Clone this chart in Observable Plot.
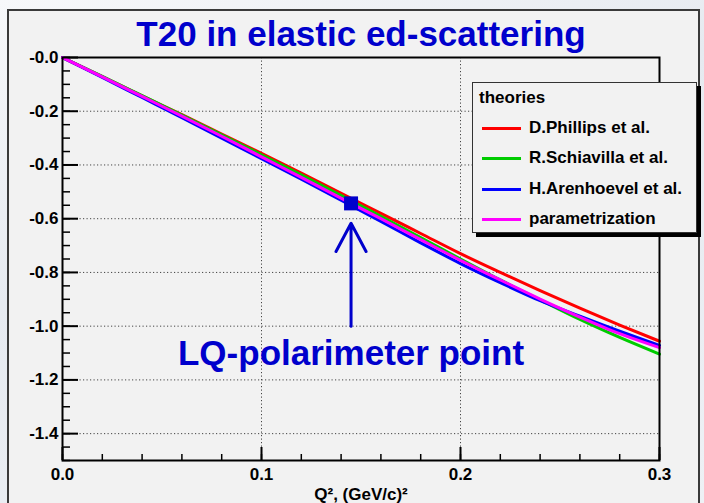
<!DOCTYPE html>
<html>
<head>
<meta charset="utf-8">
<script src="https://cdn.jsdelivr.net/npm/d3@7"></script>
<script src="https://cdn.jsdelivr.net/npm/@observablehq/plot@0.6"></script>
<style>
  html, body { margin: 0; padding: 0; }
  body { width: 704px; height: 503px; overflow: hidden; }
  #wrap { position: relative; width: 704px; height: 503px; overflow: hidden;
    background: linear-gradient(160deg, #f7f8fa 0%, #e6eaf0 40%, #eef1f5 100%); }
  #panel { position: absolute; left: 7px; top: 9px; width: 693px; height: 520px; box-sizing: border-box;
    border: 2px solid #3a3a3a; background: #f2f2f2; }
  #chart { position: absolute; left: 0; top: 0; }
  #legend { position: absolute; left: 472px; top: 82px; width: 225px; height: 151px; box-sizing: border-box;
    border: 1px solid #333; background: #f2f2f2; box-shadow: 4px 4px 0 #000;
    font: bold 17px "Liberation Sans", Arial, sans-serif; color: #000; }
  #legend .hdr { position: absolute; left: 6px; top: 5px; line-height: 20px; }
  #legend .row { position: absolute; left: 0; height: 20px; width: 100%; }
  #legend .sw { position: absolute; left: 9px; top: 9px; width: 39px; height: 3px; }
  #legend .lb { position: absolute; left: 56px; top: 0; line-height: 20px; white-space: nowrap; }
</style>
</head>
<body>
<div id="wrap">
  <div id="panel"></div>
  <div id="chart"></div>
  <div id="legend"></div>
</div>
<script>
// ---- data ----
const titleText = "T20 in elastic ed-scattering";
const xLabelText = "Q², (GeV/c)²";
const legendTitle = "theories";
const seriesNames = ["D.Phillips et al.", "R.Schiavilla et al.", "H.Arenhoevel et al.", "parametrization"];
const seriesColors = ["#ff0000", "#00cc00", "#0000ff", "#ff00ff"];

const q2 = [0, 0.02, 0.04, 0.06, 0.08, 0.10, 0.12, 0.145, 0.16, 0.18, 0.20, 0.22, 0.24, 0.26, 0.28, 0.30];
const phillips = [0, -0.071, -0.143, -0.213, -0.285, -0.357, -0.430, -0.524, -0.580, -0.655, -0.730, -0.800, -0.868, -0.933, -0.996, -1.056];
const schiavilla = [0, -0.070, -0.142, -0.214, -0.288, -0.362, -0.437, -0.533, -0.591, -0.670, -0.750, -0.828, -0.902, -0.975, -1.042, -1.104];
const arenhoevel = [0, -0.074, -0.149, -0.224, -0.300, -0.377, -0.453, -0.551, -0.610, -0.690, -0.767, -0.838, -0.905, -0.963, -1.019, -1.072];
const parametrization = [0, -0.072, -0.145, -0.218, -0.293, -0.370, -0.446, -0.543, -0.600, -0.678, -0.755, -0.828, -0.899, -0.966, -1.028, -1.080];

const lqLabel = "LQ-polarimeter point";
const lqPoint = [{q: 0.145, t: -0.543}];
const lqArrow = [{q: 0.145, from: -1.0, to: -0.617}];
const lqText = [{q: 0.145, t: -1.145, label: lqLabel}];

const xTicks = [0, 0.1, 0.2, 0.3];
const xTickLabels = ["0.0", "0.1", "0.2", "0.3"];
const yTicks = [0, -0.2, -0.4, -0.6, -0.8, -1.0, -1.2, -1.4];
const yTickLabels = ["-0.0", "-0.2", "-0.4", "-0.6", "-0.8", "-1.0", "-1.2", "-1.4"];
const xGrid = [0.1, 0.2];
const yGrid = [-0.2, -0.4, -0.6, -0.8, -1.0, -1.2, -1.4];
const xMinor = d3.range(0, 16).map(i => +(i * 0.02).toFixed(2));
const yMinor = d3.range(0, 31).map(i => +(-i * 0.05).toFixed(2));

// ---- build ----
const seriesValues = [phillips, schiavilla, arenhoevel, parametrization];
const rows = seriesNames.flatMap((name, s) => q2.map((q, i) => ({series: name, q, t: seriesValues[s][i]})));
const xLab = new Map(xTicks.map((v, i) => [v, xTickLabels[i]]));
const yLab = new Map(yTicks.map((v, i) => [v, yTickLabels[i]]));

const W = 704, H = 503, mL = 62, mR = 45, mT = 57, mB = 43;
const fw = W - mL - mR, fh = H - mT - mB;
const blue = "#0000cc";
const dotted = {stroke: "#444", strokeOpacity: 1, strokeWidth: 1, strokeDasharray: "1.2,2.3"};

const chart = Plot.plot({
  width: W, height: H,
  marginLeft: mL, marginRight: mR, marginTop: mT, marginBottom: mB,
  x: {domain: [0, 0.3]},
  y: {domain: [-1.5, 0]},
  color: {domain: seriesNames, range: seriesColors},
  style: {background: "transparent", fontFamily: "'Liberation Sans', Arial, sans-serif",
          fontWeight: "bold", fontSize: "17px", color: "black", overflow: "visible"},
  marks: [
    Plot.gridY(yGrid, dotted),
    Plot.gridX(xGrid, dotted),
    Plot.tickY(yMinor, {stroke: "black", strokeWidth: 1.5, insetRight: fw - 8}),
    Plot.tickY(yTicks, {stroke: "black", strokeWidth: 2, insetRight: fw - 16}),
    Plot.tickX(xMinor, {stroke: "black", strokeWidth: 1.5, insetTop: fh - 6}),
    Plot.tickX(xTicks, {stroke: "black", strokeWidth: 2, insetTop: fh - 13}),
    Plot.line(rows, {x: "q", y: "t", z: "series", stroke: "series", strokeWidth: 3, curve: "monotone-x"}),
    Plot.dot(lqPoint, {x: "q", y: "t", symbol: "square", r: 7.9, fill: blue, stroke: "none"}),
    Plot.arrow(lqArrow, {x1: "q", x2: "q", y1: "from", y2: "to", stroke: blue, strokeWidth: 3, headLength: 16, headAngle: 56}),
    Plot.text(lqText, {x: "q", y: "t", text: "label", fill: blue, fontSize: 35, fontWeight: "bold", lineAnchor: "bottom"}),
    Plot.text([titleText], {frameAnchor: "top", dy: -12, text: d => d, fill: blue, fontSize: 35, fontWeight: "bold", lineAnchor: "bottom"}),
    Plot.text([xLabelText], {frameAnchor: "bottom", dy: 39, text: d => d, fill: "black", fontSize: 17, fontWeight: "bold", lineAnchor: "bottom"}),
    Plot.frame({stroke: "black", strokeWidth: 2}),
    Plot.axisX(xTicks, {tickSize: 0, tickPadding: 7, label: null, tickFormat: d => xLab.get(d), fontSize: 17, fontWeight: "bold"}),
    Plot.axisY(yTicks, {tickSize: 0, tickPadding: 4, label: null, tickFormat: d => yLab.get(d), fontSize: 17, fontWeight: "bold"})
  ]
});
document.getElementById("chart").appendChild(chart);

// legend (HTML, built from the same arrays)
const leg = document.getElementById("legend");
const hdr = document.createElement("div");
hdr.className = "hdr"; hdr.textContent = legendTitle; leg.appendChild(hdr);
seriesNames.forEach((name, i) => {
  const row = document.createElement("div");
  row.className = "row"; row.style.top = (35.3 + 30.1 * i) + "px";
  const sw = document.createElement("div");
  sw.className = "sw"; sw.style.background = seriesColors[i];
  const lb = document.createElement("div");
  lb.className = "lb"; lb.textContent = name;
  row.appendChild(sw); row.appendChild(lb); leg.appendChild(row);
});
</script>
</body>
</html>
